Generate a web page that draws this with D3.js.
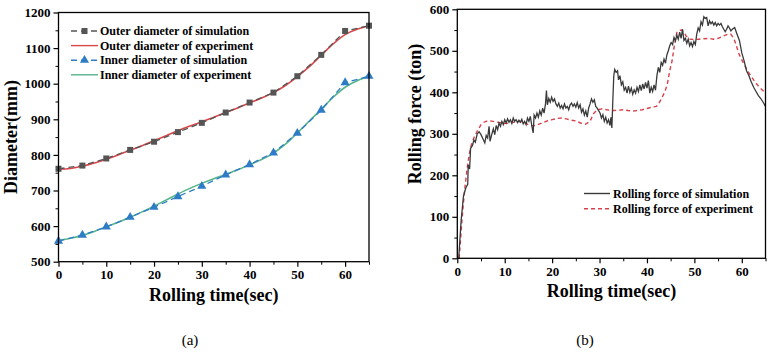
<!DOCTYPE html>
<html><head><meta charset="utf-8">
<script src="https://cdn.jsdelivr.net/npm/d3@7"></script>
<style>
body{margin:0;background:#fff;}
svg{display:block;}
svg text{font-family:"Liberation Serif","Times New Roman",serif !important;}
</style></head>
<body>
<svg id="c" width="771" height="352"></svg>
<script>
// ---------- Data: chart (a) ----------
const simTimes = [0,5,10,15,20,25,30,35,40,45,50,55,60,65];
const outerSim = [761,770,790,814,837,864,890,919,947,975,1021,1081,1148,1163];
const innerSim = [558,575,598,625,653,683,712,744,773,806,861,926,1003,1021];
const expTimes = [0,2.5,5,7.5,10,12.5,15,17.5,20,22.5,25,27.5,30,32.5,35,37.5,40,42.5,45,47.5,50,52.5,55,57.5,60,62.5,65];
const outerExp = [760,762,768,777,788,800,813,826,840,854,868,881,893,906,919,932,946,960,975,995,1020,1048,1080,1112,1138,1153,1162];
const innerExp = [560,566,574,585,598,611,625,640,656,673,690,706,720,733,745,758,772,787,805,830,862,895,928,962,990,1008,1020];
const diamTicks = [500,600,700,800,900,1000,1100,1200];
const timeTicks = [0,10,20,30,40,50,60];
const legendA = ["Outer diameter of simulation","Outer diameter of experiment","Inner diameter of simulation","Inner diameter of experiment"];

// ---------- Data: chart (b) ----------
const forceSimT = [0.3,0.8,1.3,1.8,2.2,2.3,2.6,2.8,3.2,3.5,3.8,4.2,4.6,5.0,5.4,5.8,6.1,6.4,6.7,6.9,7.3,7.6,7.9,8.2,8.5,8.8,9.1,9.4,9.7,10.0,10.3,10.6,10.9,11.2,11.5,11.8,12.1,12.4,12.7,13.0,13.3,13.6,13.9,14.2,14.5,14.8,15.1,15.4,15.7,16.0,16.2,16.5,16.8,17.1,17.4,17.7,18.0,18.3,18.6,18.8,19.0,19.3,19.6,19.9,20.2,20.5,20.8,21.1,21.4,21.7,22.0,22.3,22.6,22.9,23.2,23.5,23.8,24.1,24.4,24.7,25.0,25.3,25.6,25.9,26.2,26.5,26.8,27.1,27.4,27.7,28.0,28.3,28.6,28.9,29.2,29.5,29.8,30.1,30.4,30.7,31.0,31.3,31.6,31.9,32.2,32.4,32.6,32.8,33.0,33.2,33.5,33.8,34.0,34.3,34.6,34.9,35.2,35.5,35.8,36.1,36.4,36.7,37.0,37.3,37.6,37.9,38.2,38.5,38.8,39.1,39.4,39.7,40.0,40.3,40.6,40.9,41.2,41.5,41.8,42.1,42.4,42.7,43.0,43.3,43.6,43.9,44.2,44.5,44.8,45.1,45.4,45.7,46.0,46.3,46.6,46.9,47.2,47.5,47.8,48.1,48.4,48.7,49.0,49.3,49.6,49.9,50.2,50.5,50.8,51.1,51.4,51.7,52.0,52.3,52.6,52.9,53.2,53.5,53.8,54.1,54.4,54.7,55.0,55.3,55.6,55.9,56.2,56.5,56.8,57.1,57.4,57.7,58.0,58.5,59.0,59.5,60.0,60.5,61.0,61.5,62.0,62.5,63.0,63.5,64.0,64.5,65.0];
const forceSim = [0,90,150,170,178,225,215,265,272,285,280,300,305,298,288,278,296,290,318,282,300,312,298,320,310,326,318,330,322,334,326,336,328,334,325,338,330,334,327,333,328,335,324,330,322,338,330,342,320,302,345,338,350,340,355,345,362,350,372,404,370,385,376,388,378,384,372,366,374,362,368,360,372,362,366,358,370,374,366,372,364,375,362,370,352,360,345,355,340,362,372,384,376,382,366,362,356,350,338,346,330,340,326,334,320,340,314,380,440,455,448,452,430,440,418,425,405,412,398,415,400,410,395,406,398,412,402,418,404,420,408,424,410,428,398,412,402,418,405,440,460,448,472,465,480,470,490,500,512,520,515,532,524,538,528,545,530,552,525,530,518,528,512,520,510,522,515,540,555,548,570,562,582,578,580,560,572,565,570,562,568,560,566,562,566,558,552,546,552,560,555,548,552,556,540,525,495,475,452,440,425,412,402,392,385,376,366];
const forceExpT = [0.4,1.0,1.5,2.0,2.5,3.0,3.5,4.0,4.5,5.0,5.5,6.0,7.0,8.0,9.0,10.0,11.0,12.0,13.0,14.0,15.0,16.0,17.0,18.0,19.0,20.0,21.0,22.0,23.0,24.0,25.0,26.0,27.0,28.0,28.7,29.5,30.5,32.0,33.0,34.0,35.0,36.0,37.0,38.0,39.0,40.0,41.0,42.0,42.6,43.2,43.8,44.3,44.8,45.3,45.8,46.3,46.8,47.3,47.8,48.3,49.0,50.0,51.0,52.0,53.0,54.0,55.0,56.0,57.0,57.7,58.3,58.8,59.3,60.0,60.6,61.2,62.0,62.8,63.5,64.2,65.0];
const forceExp = [0,95,160,210,250,275,290,302,312,322,327,330,331,329,327,325,326,328,330,328,322,319,322,327,331,334,337,338,336,333,331,326,323,330,348,358,360,357,356,357,358,356,355,356,358,361,364,366,375,388,402,420,452,476,515,544,549,550,545,535,528,527,528,529,530,528,530,535,540,540,530,515,495,478,465,452,438,425,415,407,398];
const forceTicks = [0,100,200,300,400,500,600];
const legendB = ["Rolling force of simulation","Rolling force of experiment"];

const svg = d3.select("#c");
const F = '"Liberation Serif","Times New Roman",serif';

function frame(g, x, y, xt, yt, xMinor, yMinor, xTitle, yTitle, yTitleX, yTitleY) {
  const [x0, x1] = x.range(), [y0, y1] = y.range();
  g.append("g").attr("transform", `translate(0,${y0})`)
    .call(d3.axisBottom(x).tickValues(xMinor).tickSize(3).tickFormat(""))
    .call(s => { s.select(".domain").remove(); s.selectAll("line").attr("stroke","#000").attr("stroke-width",1); });
  g.append("g").attr("transform", `translate(${x0},0)`)
    .call(d3.axisLeft(y).tickValues(yMinor).tickSize(3).tickFormat(""))
    .call(s => { s.select(".domain").remove(); s.selectAll("line").attr("stroke","#000").attr("stroke-width",1); });
  g.append("g").attr("transform", `translate(0,${y0})`)
    .call(d3.axisBottom(x).tickValues(xt).tickSize(5).tickSizeOuter(0).tickPadding(3).tickFormat(d3.format("d")))
    .call(s => { s.attr("font-family",F).attr("font-size",13).attr("font-weight","bold");
      s.select(".domain").remove(); s.selectAll("line").attr("stroke","#000").attr("stroke-width",1.2);
      s.selectAll("text").attr("fill","#000"); });
  g.append("g").attr("transform", `translate(${x0},0)`)
    .call(d3.axisLeft(y).tickValues(yt).tickSize(5).tickSizeOuter(0).tickPadding(3).tickFormat(d3.format("d")))
    .call(s => { s.attr("font-family",F).attr("font-size",13).attr("font-weight","bold");
      s.select(".domain").remove(); s.selectAll("line").attr("stroke","#000").attr("stroke-width",1.2);
      s.selectAll("text").attr("fill","#000"); });
  g.append("rect").attr("x", x0).attr("y", y1).attr("width", x1 - x0).attr("height", y0 - y1)
    .attr("fill","none").attr("stroke","#000").attr("stroke-width",1.3);
  g.append("text").attr("x",(x0+x1)/2).attr("y",y0+39).attr("text-anchor","middle")
    .attr("font-weight","bold").attr("font-size",18).text(xTitle);
  g.append("text").attr("transform",`translate(${yTitleX},${yTitleY}) rotate(-90)`).attr("text-anchor","middle")
    .attr("font-weight","bold").attr("font-size",18).text(yTitle);
}

// ---------- Chart (a) ----------
const xa = d3.scaleLinear().domain([0,65]).range([58.5,369]);
const ya = d3.scaleLinear().domain([500,1200]).range([261.7,12.5]);
const ga = svg.append("g");
const lineA = (xs, ys, curve) => d3.line().x((d,i)=>xa(xs[i])).y(d=>ya(d)).curve(curve)(ys);
const cRed = "#d9474b", cGray = "#555555", cBlue = "#2f7cc6", cGreen = "#55b48a";
ga.append("path").attr("d", lineA(expTimes, outerExp, d3.curveMonotoneX)).attr("fill","none").attr("stroke",cRed).attr("stroke-width",1.6);
ga.append("path").attr("d", lineA(expTimes, innerExp, d3.curveMonotoneX)).attr("fill","none").attr("stroke",cGreen).attr("stroke-width",1.6);
ga.append("path").attr("d", lineA(simTimes, outerSim, d3.curveLinear)).attr("fill","none").attr("stroke",cGray).attr("stroke-width",1.3).attr("stroke-dasharray","6,4");
ga.append("path").attr("d", lineA(simTimes, innerSim, d3.curveLinear)).attr("fill","none").attr("stroke",cBlue).attr("stroke-width",1.3).attr("stroke-dasharray","6,4");
ga.selectAll("rect.sq").data(outerSim).join("rect").attr("class","sq")
  .attr("x",(d,i)=>xa(simTimes[i])-3).attr("y",d=>ya(d)-3).attr("width",6).attr("height",6).attr("fill",cGray);
const tri = d3.symbol().type(d3.symbolTriangle).size(36);
ga.selectAll("path.tr").data(innerSim).join("path").attr("class","tr")
  .attr("transform",(d,i)=>`translate(${xa(simTimes[i])},${ya(d)})`).attr("d",tri()).attr("fill",cBlue);
frame(ga, xa, ya, timeTicks, diamTicks, d3.range(5,66,10), d3.range(550,1200,100),
  "Rolling time(sec)", "Diameter(mm)", 17, 137);
const legA = ga.append("g");
const legStyles = [{c:cGray,dash:"6,4",m:"sq"},{c:cRed,dash:null},{c:cBlue,dash:"6,4",m:"tri"},{c:cGreen,dash:null}];
legendA.forEach((t,i)=>{
  const y = 31 + i*14.6;
  const l = legA.append("line").attr("x1",71).attr("x2",98).attr("y1",y).attr("y2",y).attr("stroke",legStyles[i].c).attr("stroke-width",1.4);
  if (legStyles[i].dash) l.attr("stroke-dasharray",legStyles[i].dash);
  if (legStyles[i].m==="sq") legA.append("rect").attr("x",81.5).attr("y",y-3).attr("width",6).attr("height",6).attr("fill",cGray);
  if (legStyles[i].m==="tri") legA.append("path").attr("transform",`translate(84.5,${y})`).attr("d",tri()).attr("fill",cBlue);
  legA.append("text").attr("x",100).attr("y",y+4).attr("font-weight","bold").attr("font-size",12).text(t);
});

// ---------- Chart (b) ----------
const xb = d3.scaleLinear().domain([0,65]).range([457.3,765.5]);
const yb = d3.scaleLinear().domain([0,600]).range([258.3,9.3]);
const gb = svg.append("g");
const lineB = (xs, ys) => d3.line().x((d,i)=>xb(xs[i])).y(d=>yb(d))(ys);
const cSim = "#3a3a3a", cExp = "#d9404a";
gb.append("path").attr("d", lineB(forceExpT, forceExp)).attr("fill","none").attr("stroke",cExp).attr("stroke-width",1.4).attr("stroke-dasharray","4,3");
gb.append("path").attr("d", lineB(forceSimT, forceSim)).attr("fill","none").attr("stroke",cSim).attr("stroke-width",1.3);
frame(gb, xb, yb, timeTicks, forceTicks, d3.range(5,66,10), d3.range(50,600,100),
  "Rolling time(sec)", "Rolling force (ton)", 421, 114);
const legB = gb.append("g");
legendB.forEach((t,i)=>{
  const y = 193.5 + i*15.2;
  const l = legB.append("line").attr("x1",584).attr("x2",610).attr("y1",y).attr("y2",y)
    .attr("stroke", i===0?cSim:cExp).attr("stroke-width",1.4);
  if (i===1) l.attr("stroke-dasharray","4,3");
  legB.append("text").attr("x",613).attr("y",y+4).attr("font-weight","bold").attr("font-size",12).text(t);
});

svg.append("text").attr("x",190).attr("y",345).attr("text-anchor","middle").attr("font-size",15).text("(a)");
svg.append("text").attr("x",585).attr("y",345).attr("text-anchor","middle").attr("font-size",15).text("(b)");
</script>
</body></html>
